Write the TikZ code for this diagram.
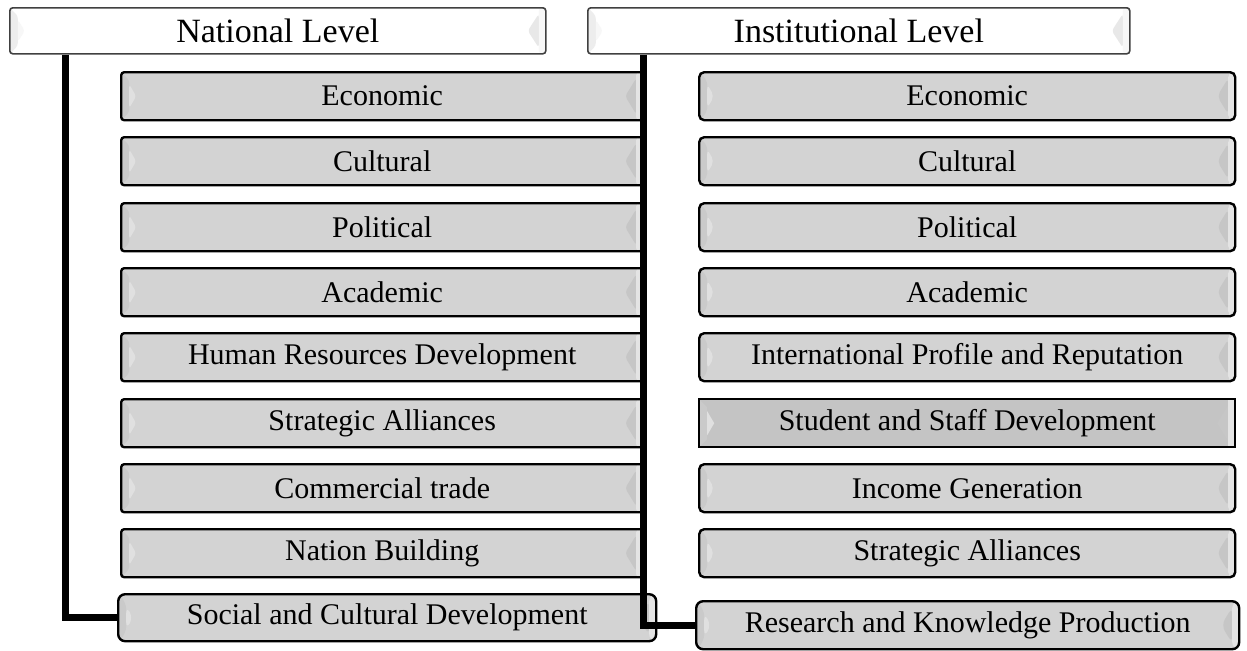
\documentclass[tikz,border=0pt]{standalone}
\usepackage{fontspec}
\setmainfont{Liberation Serif}
\definecolor{boxgray}{RGB}{211,211,211}
\definecolor{boxdark}{RGB}{196,196,196}
\definecolor{bandgray}{RGB}{202,202,202}
\definecolor{tiplight}{RGB}{224,224,224}
\definecolor{tipdark}{RGB}{198,198,198}
\definecolor{striplight}{RGB}{228,228,228}
\tikzset{
  % bevelled edges: left band, left highlight, right shade, right strip
  bevel/.style n args={4}{path picture={
    \fill[#1] (path picture bounding box.north west)
      -- ([shift={(4pt,-4pt)}]path picture bounding box.north west)
      -- ([shift={(4pt,4pt)}]path picture bounding box.south west)
      -- (path picture bounding box.south west) -- cycle;
    \fill[#2] ([shift={(4pt,-6pt)}]path picture bounding box.north west)
      -- ([xshift=7.5pt]path picture bounding box.west)
      -- ([shift={(4pt,6pt)}]path picture bounding box.south west) -- cycle;
    \fill[#3] ([shift={(-3.5pt,-3pt)}]path picture bounding box.north east)
      -- ([xshift=-9pt]path picture bounding box.east)
      -- ([shift={(-3.5pt,3pt)}]path picture bounding box.south east) -- cycle;
    \fill[#4] ([xshift=-3.5pt]path picture bounding box.north east)
      rectangle (path picture bounding box.south east);
  }},
  item/.style={draw=black, line width=1.2pt, fill=boxgray, rounded corners=1.5pt,
    minimum height=24pt, inner sep=0pt, anchor=north west,
    font=\fontsize{15}{17}\selectfont,
    bevel={bandgray}{tiplight}{tipdark}{striplight}},
  leftitem/.style={item, minimum width=261pt},
  rightitem/.style={item, minimum width=268pt, rounded corners=2.5pt},
  lastitem/.style={item, rounded corners=3.5pt},
  header/.style={draw=black!75, line width=0.8pt, fill=white, rounded corners=1.5pt,
    minimum height=23pt, inner sep=0pt, anchor=north west,
    font=\fontsize{17}{19}\selectfont,
    bevel={black!7}{black!3}{black!9}{black!3}},
  conn/.style={draw=black, line width=3.5pt},
}
\begin{document}
\begin{tikzpicture}[x=0.5pt, y=-0.5pt]
\useasboundingbox (0,0) rectangle (1247,650);

% level headers
\node[header, minimum width=268pt] (nat) at (9,7) {National Level};
\node[header, minimum width=271pt] (inst) at (587,7) {Institutional Level};

% national level rationales
\node[leftitem] (n1) at (120,71) {Economic};
\node[leftitem] (n2) at (120,136) {Cultural};
\node[leftitem] (n3) at (120,202) {Political};
\node[leftitem] (n4) at (120,267) {Academic};
\node[leftitem] (n5) at (120,332) {Human Resources Development};
\node[leftitem] (n6) at (120,398) {Strategic Alliances};
\node[leftitem] (n7) at (120,463) {Commercial trade};
\node[leftitem] (n8) at (120,528) {Nation Building};
\node[lastitem, minimum width=269pt, minimum height=23.5pt] (soc) at (117,593)
  {Social and Cultural Development};

% institutional level rationales
\node[rightitem] (i1) at (698,71) {Economic};
\node[rightitem] (i2) at (698,136) {Cultural};
\node[rightitem] (i3) at (698,202) {Political};
\node[rightitem] (i4) at (698,267) {Academic};
\node[rightitem] (i5) at (698,332) {International Profile and Reputation};
\node[rightitem, fill=boxdark, rounded corners=0pt] (i6) at (698,398) {Student and Staff Development};
\node[rightitem] (i7) at (698,463) {Income Generation};
\node[rightitem] (i8) at (698,528) {Strategic Alliances};
\node[lastitem, minimum width=271.5pt] (res) at (695,600)
  {Research and Knowledge Production};

% hierarchy connectors
\draw[conn] ([xshift=28pt]nat.south west) |- (soc.west);
\draw[conn] ([xshift=28pt]inst.south west) |- (res.west);
\end{tikzpicture}
\end{document}
